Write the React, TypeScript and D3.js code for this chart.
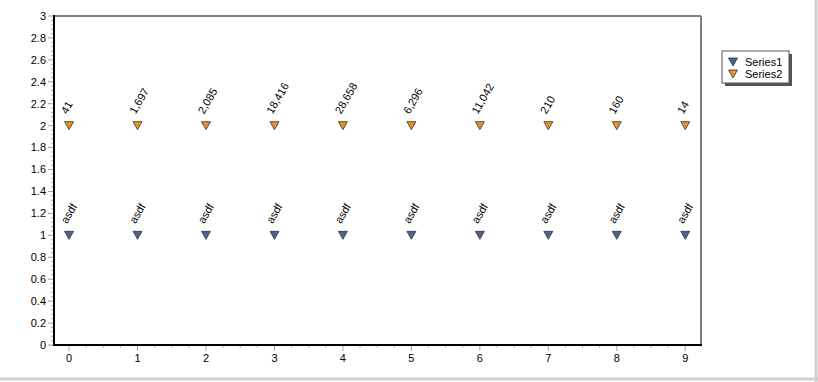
import React from "react";
import * as d3 from "d3";

const categories = [0, 1, 2, 3, 4, 5, 6, 7, 8, 9];
const series1Values = [1, 1, 1, 1, 1, 1, 1, 1, 1, 1];
const series1Labels = ["asdf", "asdf", "asdf", "asdf", "asdf", "asdf", "asdf", "asdf", "asdf", "asdf"];
const series2Values = [2, 2, 2, 2, 2, 2, 2, 2, 2, 2];
const series2Labels = ["41", "1,697", "2,085", "18,416", "28,658", "6,296", "11,042", "210", "160", "14"];
const yTicks = [0, 0.2, 0.4, 0.6, 0.8, 1, 1.2, 1.4, 1.6, 1.8, 2, 2.2, 2.4, 2.6, 2.8, 3];
const seriesNames = ["Series1", "Series2"];

const W = 818;
const H = 382;
const plot = { left: 54, right: 701, top: 16, bottom: 345 };
const colors = ["#4a6395", "#e8912c"];
const font = "'Liberation Sans', Arial, sans-serif";

export default function App() {
  const x = d3.scaleLinear().domain([-0.22, 9.23]).range([plot.left, plot.right]);
  const y = d3.scaleLinear().domain([0, 3]).range([plot.bottom, plot.top]);

  const xMinor: number[] = d3.range(0, 9 * 4 + 1).map((i) => i / 4).filter((v) => v % 1 !== 0);
  const yMinor: number[] = d3.range(0, 15 * 5 + 1).map((i) => i * 0.04).filter((_, i) => i % 5 !== 0);

  const tri = (cx: number, cy: number) =>
    `M${cx - 4.5},${cy - 4} L${cx + 4.5},${cy - 4} L${cx},${cy + 4} Z`;

  const series = [
    { values: series1Values, labels: series1Labels, color: colors[0] },
    { values: series2Values, labels: series2Labels, color: colors[1] },
  ];

  return (
    <div style={{ position: "fixed", left: 0, top: 0 }}>
      <svg width={W} height={H} style={{ display: "block", background: "#fff" }}>
        {/* outer frame */}
        <line x1={W - 2} y1={0} x2={W - 2} y2={H} stroke="#d0d0d0" strokeWidth={3} />
        <line x1={0} y1={H - 3} x2={W} y2={H - 3} stroke="#d0d0d0" strokeWidth={3} />

        {/* plot border top/right */}
        <line x1={plot.left} y1={plot.top} x2={plot.right} y2={plot.top} stroke="#808080" strokeWidth={2} />
        <line x1={plot.right} y1={plot.top} x2={plot.right} y2={plot.bottom} stroke="#808080" strokeWidth={2} />

        {/* y ticks */}
        {yMinor.map((v, i) => (
          <line key={"ym" + i} x1={plot.left - 3} x2={plot.left} y1={y(v)} y2={y(v)} stroke="#b0b0b0" strokeWidth={1} />
        ))}
        {yTicks.map((v) => (
          <g key={"yt" + v}>
            <line x1={plot.left - 6} x2={plot.left} y1={y(v)} y2={y(v)} stroke="#a0a0a0" strokeWidth={1} />
            <text x={plot.left - 8} y={y(v)} dy="0.35em" textAnchor="end" fontSize={11} fontFamily={font} fill="#000">
              {d3.format("~g")(v)}
            </text>
          </g>
        ))}

        {/* x ticks */}
        {xMinor.map((v, i) => (
          <line key={"xm" + i} x1={x(v)} x2={x(v)} y1={plot.bottom} y2={plot.bottom + 3} stroke="#b0b0b0" strokeWidth={1} />
        ))}
        {categories.map((c) => (
          <g key={"xt" + c}>
            <line x1={x(c)} x2={x(c)} y1={plot.bottom} y2={plot.bottom + 6} stroke="#a0a0a0" strokeWidth={1} />
            <text x={x(c)} y={plot.bottom + 17} textAnchor="middle" fontSize={11} fontFamily={font} fill="#000">
              {c}
            </text>
          </g>
        ))}

        {/* axis lines */}
        <line x1={plot.left} y1={plot.top - 1} x2={plot.left} y2={plot.bottom + 1} stroke="#000" strokeWidth={2} />
        <line x1={plot.left} y1={plot.bottom} x2={plot.right + 1} y2={plot.bottom} stroke="#000" strokeWidth={2} />

        {/* series */}
        {series.map((s, si) => (
          <g key={"s" + si}>
            {categories.map((c, i) => (
              <g key={i}>
                <path d={tri(x(c), y(s.values[i]))} fill={s.color} stroke="#333" strokeWidth={0.8} />
                <text
                  transform={`translate(${x(c) - 2},${y(s.values[i]) - 11}) rotate(-60)`}
                  fontSize={11}
                  fontFamily={font}
                  fill="#000"
                >
                  {s.labels[i]}
                </text>
              </g>
            ))}
          </g>
        ))}

        {/* legend */}
        <rect x={725} y={54} width={67} height={32} fill="#555" />
        <rect x={722} y={51} width={67} height={32} fill="#fff" stroke="#555" strokeWidth={1} />
        {seriesNames.map((n, i) => (
          <g key={n}>
            <path d={tri(733, 62 + i * 12)} fill={colors[i]} stroke="#333" strokeWidth={0.8} />
            <text x={745} y={62 + i * 12} dy="0.35em" fontSize={11} fontFamily={font} fill="#000">
              {n}
            </text>
          </g>
        ))}
      </svg>
    </div>
  );
}
